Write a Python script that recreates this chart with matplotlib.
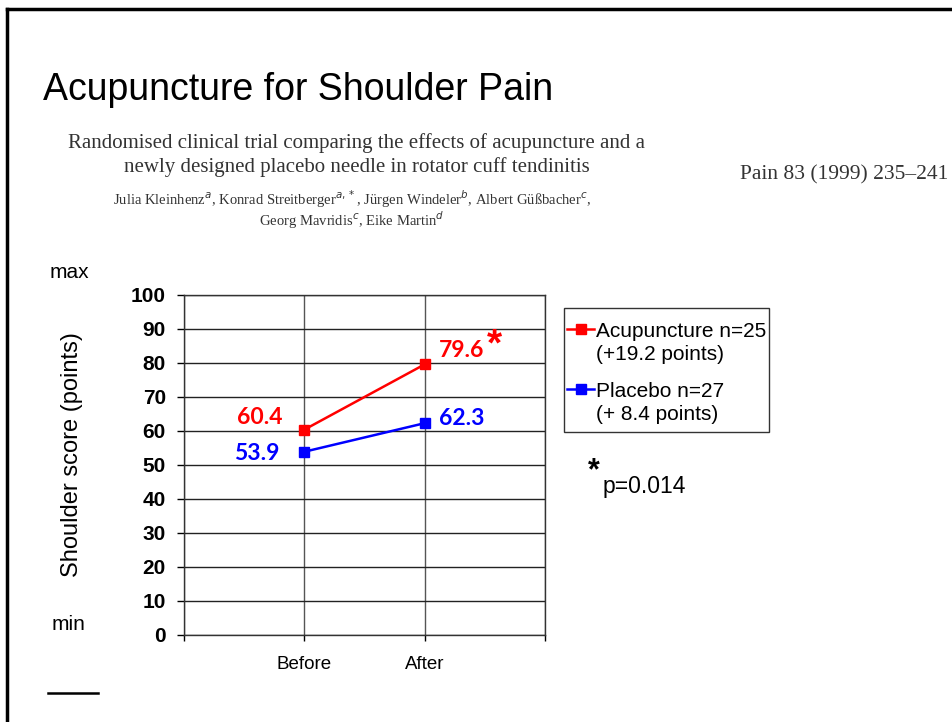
import matplotlib.pyplot as plt
from matplotlib.lines import Line2D
from matplotlib.patches import Rectangle

# slide: Acupuncture for Shoulder Pain (Kleinhenz et al., Pain 1999)
timepoints = ["Before", "After"]
acupuncture = [60.4, 79.6]
placebo = [53.9, 62.3]
legend_lines = [["Acupuncture n=25", "(+19.2 points)"], ["Placebo n=27", "(+ 8.4 points)"]]
yticks = [0, 10, 20, 30, 40, 50, 60, 70, 80, 90, 100]

W, H = 953, 722
RED = "#ff0000"
BLUE = "#0000ff"
SANS = "Liberation Sans"


def px(x, y):
    # pixel position on the slide -> figure fraction
    return x / W, 1 - y / H


def hline(x0, x1, y, **kw):
    fig.add_artist(Line2D([x0 / W, x1 / W], [1 - y / H, 1 - y / H],
                          transform=fig.transFigure, **kw))


fig = plt.figure(figsize=(W / 100, H / 100), dpi=100)

# slide border (only top and left edges are visible)
fig.add_artist(Line2D([7 / W, 7 / W], [0, 1 - 9 / H], color="black", lw=2.5,
                      transform=fig.transFigure))
hline(7, W, 9, color="black", lw=2.5)
hline(48, 98, 693, color="black", lw=1.8)

fig.text(*px(43, 100), "Acupuncture for Shoulder Pain", fontsize=27,
         family=SANS, va="baseline", ha="left")

# header of the paper (scanned in the original)
serif = dict(family="Liberation Serif", color="#333333", va="baseline")
fig.text(*px(357, 148), "Randomised clinical trial comparing the effects of acupuncture and a",
         fontsize=15, ha="center", **serif)
fig.text(*px(357, 172), "newly designed placebo needle in rotator cuff tendinitis",
         fontsize=15, ha="center", **serif)
fig.text(*px(352, 205), "Julia Kleinhenz$^{a}$, Konrad Streitberger$^{a,*}$, Jürgen Windeler$^{b}$, "
         "Albert Güßbacher$^{c}$,", fontsize=10.5, ha="center", **serif)
fig.text(*px(352, 226), "Georg Mavridis$^{c}$, Eike Martin$^{d}$",
         fontsize=10.5, ha="center", **serif)
fig.text(*px(948, 179), "Pain 83 (1999) 235\u2013241", fontsize=15.5, ha="right", **serif)

ax = fig.add_axes([184 / W, 1 - 635 / H, (545 - 184) / W, (635 - 295) / H])
x = range(len(timepoints))
ax.plot(x, acupuncture, color=RED, lw=1.8, marker="s", ms=7)
ax.plot(x, placebo, color=BLUE, lw=1.8, marker="s", ms=7)

ax.set_xlim(-1, 2)
ax.set_ylim(0, 100)
ax.set_yticks(yticks)
ax.set_yticklabels([str(v) for v in yticks], fontsize=15, fontweight="bold", family=SANS)
ax.set_xticks([-1, 0, 1, 2])
ax.set_xticklabels([""] + timepoints + [""], fontsize=13.5, family=SANS)
ax.tick_params(axis="y", direction="out", length=5, width=1, pad=8)
ax.tick_params(axis="x", direction="out", length=4, width=1, pad=11)
ax.grid(axis="y", color="#222222", lw=1)
ax.grid(axis="x", color="#555555", lw=1)
ax.set_axisbelow(True)
for s in ax.spines.values():
    s.set_color("#333333")
    s.set_linewidth(1)

lbl = dict(fontsize=16.5, fontweight="bold", family="Lato", textcoords="offset pixels",
           va="baseline")
ax.annotate(f"{acupuncture[0]:.1f}", (0, acupuncture[0]), xytext=(-22, 6),
            ha="right", color=RED, **lbl)
ax.annotate(f"{placebo[0]:.1f}", (0, placebo[0]), xytext=(-25, -8),
            ha="right", color=BLUE, **lbl)
ax.annotate(f"{acupuncture[1]:.1f}", (1, acupuncture[1]), xytext=(14, 7),
            ha="left", color=RED, **lbl)
ax.annotate(f"{placebo[1]:.1f}", (1, placebo[1]), xytext=(14, -2),
            ha="left", color=BLUE, **lbl)
ax.annotate("*", (1, acupuncture[1]), xytext=(70, 9), ha="center", va="baseline",
            color=RED, fontsize=28, fontweight="bold", family=SANS,
            textcoords="offset pixels")

fig.text(*px(72, 455), "Shoulder score (points)", rotation=90, fontsize=17,
         family=SANS, ha="center", va="center")
fig.text(*px(50, 278), "max", fontsize=15, family=SANS, va="baseline")
fig.text(*px(52, 630), "min", fontsize=15, family=SANS, va="baseline")

# legend box drawn by hand so the marker sits on the first line of each entry
fig.add_artist(Rectangle(px(564, 432), 205 / W, 124 / H, transform=fig.transFigure,
                         facecolor="white", edgecolor="#333333", lw=1))
for (first, second), color, y0 in zip(legend_lines, [RED, BLUE], [337, 397]):
    yl = y0 - 8
    fig.add_artist(Line2D([567 / W, 594 / W], [1 - yl / H] * 2, color=color, lw=1.8,
                          transform=fig.transFigure))
    fig.add_artist(Line2D([581 / W], [1 - yl / H], color=color, marker="s", ms=7,
                          transform=fig.transFigure))
    fig.text(*px(596, y0), first, fontsize=15, family=SANS, va="baseline")
    fig.text(*px(596, y0 + 23), second, fontsize=15, family=SANS, va="baseline")

fig.text(*px(594, 479), "*", fontsize=22, fontweight="bold", family=SANS,
         ha="center", va="baseline")
fig.text(*px(603, 493), "p=0.014", fontsize=16.5, family=SANS, va="baseline")

fig.savefig("out.png", dpi=100)
